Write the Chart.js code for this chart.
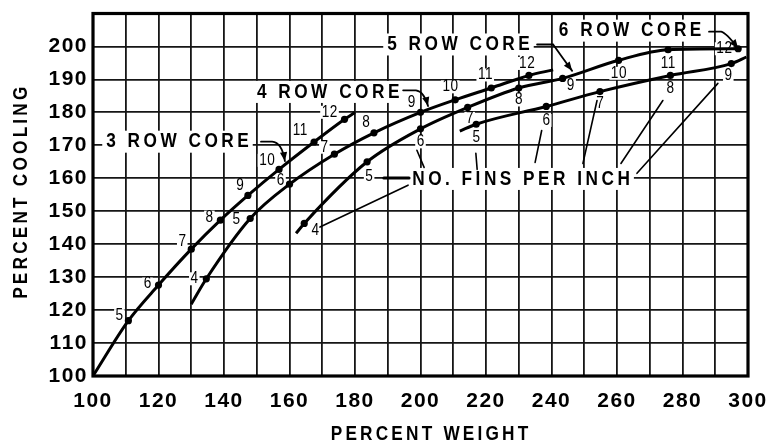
<!DOCTYPE html>
<html>
<head>
<meta charset="utf-8">
<script src="https://cdn.jsdelivr.net/npm/chart.js@4.4.1/dist/chart.umd.min.js"></script>
<style>
  html, body { margin: 0; padding: 0; background: #fff; }
  canvas { display: block; }
</style>
</head>
<body>
<canvas id="chart" width="770" height="445"></canvas>
<script>
// Percent weight (x) against percent cooling (y) for each radiator core.
// Fin counts mark the plotted points; null marks a curve end without a point.
const row3Weight  = [100, 110.8, 120, 130, 138.9, 147.3, 156.8, 167.5, 176.8, 180];
const row3Cooling = [100, 116.8, 127.6, 138.5, 147.3, 154.8, 162.7, 171.0, 177.9, 180];
const row3Fins    = [null, 5, 6, 7, 8, 9, 10, 11, 12, null];

const row4Weight  = [130, 134.6, 148, 160, 173.7, 185.8, 200, 210.6, 221.6, 233.1, 240.5];
const row4Cooling = [121.8, 129.5, 147.8, 158.2, 167.3, 173.8, 180, 183.8, 187.4, 191.2, 192.9];
const row4Fins    = [null, 4, 5, 6, 7, 8, 9, 10, 11, 12, null];

const row5Weight  = [162, 164.5, 183.7, 200, 214.4, 230, 243.4, 260.5, 275.6, 297];
const row5Cooling = [143.3, 146.3, 165, 175, 181.5, 187.4, 190.3, 195.8, 199, 199.3];
const row5Fins    = [null, 4, 5, 6, 7, 8, 9, 10, 11, 12];

const row6Weight  = [212, 217, 238.4, 254.8, 276.3, 294.9, 299.5];
const row6Cooling = [174.3, 176.4, 181.8, 186.3, 191.2, 194.8, 196.8];
const row6Fins    = [null, 5, 6, 7, 8, 9, null];

const weightTicks  = [100, 120, 140, 160, 180, 200, 220, 240, 260, 280, 300];
const coolingTicks = [100, 110, 120, 130, 140, 150, 160, 170, 180, 190, 200];

const xTitle = 'PERCENT WEIGHT';
const yTitle = 'PERCENT COOLING';

const cores = [
  { weight: row3Weight, cooling: row3Cooling, fins: row3Fins },
  { weight: row4Weight, cooling: row4Cooling, fins: row4Fins },
  { weight: row5Weight, cooling: row5Cooling, fins: row5Fins },
  { weight: row6Weight, cooling: row6Cooling, fins: row6Fins }
];

// Pixel offsets of each fin number from its point, per core
const finLabelOffsets = [
  [[-9,-5],[-11,-1],[-9,-8],[-11,-3],[-8,-10],[-12,-9],[-14,-11],[-15,-7]],
  [[-12,0],[-14,1],[-9,-4],[-10,-7],[-8,-10],[-9,-10],[-5,-13],[-6,-13],[-2,-12]],
  [[11,7],[2,15],[0,13],[2,11],[0,12],[8,7],[0,13],[0,14],[-14,0]],
  [[0,13],[0,14],[0,12],[0,13],[-3,12]]
];

// Core name callouts, in axis units: text centre, leader start, bend, control, arrow tip
const coreCallouts = [
  { text: '3 ROW CORE', at: [125.8, 171.1], lead: [[151.3,171.1],[154.7,171.1],[157.7,170.9],[158.6,165.2]] },
  { text: '4 ROW CORE', at: [171.8, 186.2], lead: [[194.7,186.7],[198.6,186.7],[201.1,186.4],[202.3,181.9]] },
  { text: '5 ROW CORE', at: [211.6, 200.6], lead: [[235.6,200.6],[240.5,200.6],[243.4,196.5],[246.3,192.6]] },
  { text: '6 ROW CORE', at: [264.0, 204.8], lead: [[288.1,204.5],[291.8,204.5],[293.3,204.2],[297.0,199.4]] }
];

const finsNote = { text: 'NO. FINS PER INCH', at: [230.7, 159.8] };
const finsLeaders = [
  [[196.5,160.1],[188.8,160.1], 3],
  [[196.2,157.9],[169.3,145.2], 1.6],
  [[201.1,163.3],[198.9,168.5], 1.6],
  [[217.3,162.7],[216.9,167.6], 1.6],
  [[235.0,164.8],[237.0,174.5], 1.6],
  [[249.6,164.5],[253.9,183.6], 1.6],
  [[261.2,164.5],[274.0,183.6], 1.6],
  [[266.1,161.5],[290.8,188.8], 1.6]
];

const SANS = "'Liberation Sans', Arial, sans-serif";
const HEAVY = "bold 21px " + SANS;
const SMALL = "16px " + SANS;

// Condensed text: squeezed horizontally, with open letter spacing
function squeezed(ctx, text, x, y, font, sx, gap, rot) {
  ctx.save();
  ctx.font = font;
  ctx.letterSpacing = (gap / sx) + 'px';
  ctx.textAlign = 'left';
  ctx.textBaseline = 'middle';
  const w = (ctx.measureText(text).width - gap / sx) * sx;
  ctx.translate(x, y);
  if (rot) ctx.rotate(rot);
  ctx.scale(sx, 1);
  ctx.fillText(text, -w / 2 / sx, 0);
  ctx.restore();
  return w;
}
function squeezedWidth(ctx, text, font, sx, gap) {
  ctx.save();
  ctx.font = font;
  ctx.letterSpacing = (gap / sx) + 'px';
  const w = (ctx.measureText(text).width - gap / sx) * sx;
  ctx.restore();
  return w;
}

function arrowHead(ctx, fx, fy, tx, ty) {
  const a = Math.atan2(ty - fy, tx - fx);
  const len = 9, half = 3.6;
  ctx.beginPath();
  ctx.moveTo(tx, ty);
  ctx.lineTo(tx - len * Math.cos(a) + half * Math.sin(a), ty - len * Math.sin(a) - half * Math.cos(a));
  ctx.lineTo(tx - len * Math.cos(a) - half * Math.sin(a), ty - len * Math.sin(a) + half * Math.cos(a));
  ctx.closePath();
  ctx.fill();
}

const spacing = {
  id: 'spacing',
  beforeUpdate(chart) { chart.ctx.letterSpacing = '1.5px'; },
  beforeDraw(chart) { chart.ctx.letterSpacing = '1.5px'; }
};

function finLabelSpots(chart, fn) {
  const { x, y } = chart.scales;
  cores.forEach((core, ci) => {
    let k = 0;
    core.fins.forEach((f, i) => {
      if (f == null) return;
      const off = finLabelOffsets[ci][k++];
      fn(String(f), x.getPixelForValue(core.weight[i]) + off[0], y.getPixelForValue(core.cooling[i]) + off[1]);
    });
  });
}

const callouts = {
  id: 'callouts',
  beforeDatasetsDraw(chart) {
    const { ctx, scales: { x, y } } = chart;
    ctx.save();
    ctx.fillStyle = '#fff';
    [...coreCallouts, finsNote].forEach(c => {
      const w = squeezedWidth(ctx, c.text, HEAVY, 0.82, 3.5);
      const cx = x.getPixelForValue(c.at[0]), cy = y.getPixelForValue(c.at[1]);
      ctx.fillRect(cx - w / 2 - 4, cy - 11, w + 8, 22);
    });
    finLabelSpots(chart, (t, lx, ly) => {
      const w = squeezedWidth(ctx, t, SMALL, 0.85, 0.5);
      ctx.fillRect(lx - w / 2 - 1.5, ly - 6.5, w + 3, 13);
    });
    ctx.restore();
  },
  afterDatasetsDraw(chart) {
    const { ctx, chartArea: a, scales: { x, y } } = chart;
    const P = v => [x.getPixelForValue(v[0]), y.getPixelForValue(v[1])];
    ctx.save();
    ctx.fillStyle = '#000';
    ctx.strokeStyle = '#000';
    ctx.lineCap = 'round';

    // fin numbers beside the points
    finLabelSpots(chart, (t, lx, ly) => squeezed(ctx, t, lx, ly, SMALL, 0.85, 0.5));

    // core names with hooked leaders
    coreCallouts.forEach(c => {
      const [cx, cy] = P(c.at);
      squeezed(ctx, c.text, cx, cy, HEAVY, 0.82, 3.5);
      const [s, b, k, t] = c.lead.map(P);
      ctx.lineWidth = 1.8;
      ctx.beginPath();
      ctx.moveTo(s[0], s[1]);
      ctx.lineTo(b[0], b[1]);
      ctx.quadraticCurveTo(k[0], k[1], t[0], t[1]);
      ctx.stroke();
      arrowHead(ctx, k[0], k[1], t[0], t[1]);
    });

    // fins-per-inch note and its leaders
    const [nx, ny] = P(finsNote.at);
    squeezed(ctx, finsNote.text, nx, ny, HEAVY, 0.82, 3.5);
    finsLeaders.forEach(([p0, p1, w]) => {
      const a0 = P(p0), a1 = P(p1);
      ctx.lineWidth = w;
      ctx.beginPath();
      ctx.moveTo(a0[0], a0[1]);
      ctx.lineTo(a1[0], a1[1]);
      ctx.stroke();
    });

    // heavy frame round the plot
    ctx.lineWidth = 3.2;
    ctx.lineCap = 'square';
    ctx.strokeRect(a.left, a.top, a.right - a.left, a.bottom - a.top);
    ctx.restore();
  },
  afterDraw(chart) {
    const { ctx, chartArea: a } = chart;
    ctx.save();
    ctx.fillStyle = '#000';
    // axis titles
    squeezed(ctx, xTitle, (a.left + a.right) / 2 + 9, a.bottom + 58, HEAVY, 0.82, 3.2);
    squeezed(ctx, yTitle, 21, (a.top + a.bottom) / 2 - 2, HEAVY, 0.82, 3.2, -Math.PI / 2);
    ctx.restore();
  }
};

const datasets = cores.map(core => ({
  data: core.weight.map((w, i) => ({ x: w, y: core.cooling[i] })),
  borderColor: '#000',
  backgroundColor: '#000',
  borderWidth: 3,
  cubicInterpolationMode: 'monotone',
  pointRadius: c => core.fins[c.dataIndex] == null ? 0 : 3.6,
  pointBorderWidth: 0,
  pointBackgroundColor: '#000',
  fill: false,
  clip: false
}));

new Chart(document.getElementById('chart'), {
  type: 'line',
  data: { datasets },
  options: {
    responsive: false,
    animation: false,
    devicePixelRatio: 1,
    layout: { padding: { top: 13.5, right: 22, left: 0, bottom: 0 } },
    plugins: { legend: { display: false }, tooltip: { enabled: false } },
    scales: {
      x: {
        type: 'linear',
        min: 100, max: 300,
        ticks: {
          stepSize: 10, autoSkip: false, maxRotation: 0, padding: 13,
          color: '#000',
          font: { family: SANS, size: 21, weight: 'bold', lineHeight: 1.2 },
          callback: v => weightTicks.includes(v) ? String(v) : ''
        },
        grid: { color: '#161616', lineWidth: 1.8, drawTicks: false },
        border: { display: false },
        afterFit: s => { s.height = 69; s.paddingLeft = 0; s.paddingRight = 0; }
      },
      y: {
        min: 100, max: 210,
        ticks: {
          stepSize: 10, padding: 5, color: '#000',
          font: { family: SANS, size: 21, weight: 'bold', lineHeight: 1.2 },
          callback: v => coolingTicks.includes(v) ? String(v) : ''
        },
        grid: { color: '#161616', lineWidth: 1.8, drawTicks: false },
        border: { display: false },
        afterFit: s => { s.width = 93; s.paddingTop = 0; s.paddingBottom = 0; }
      }
    }
  },
  plugins: [spacing, callouts]
});
</script>
</body>
</html>
